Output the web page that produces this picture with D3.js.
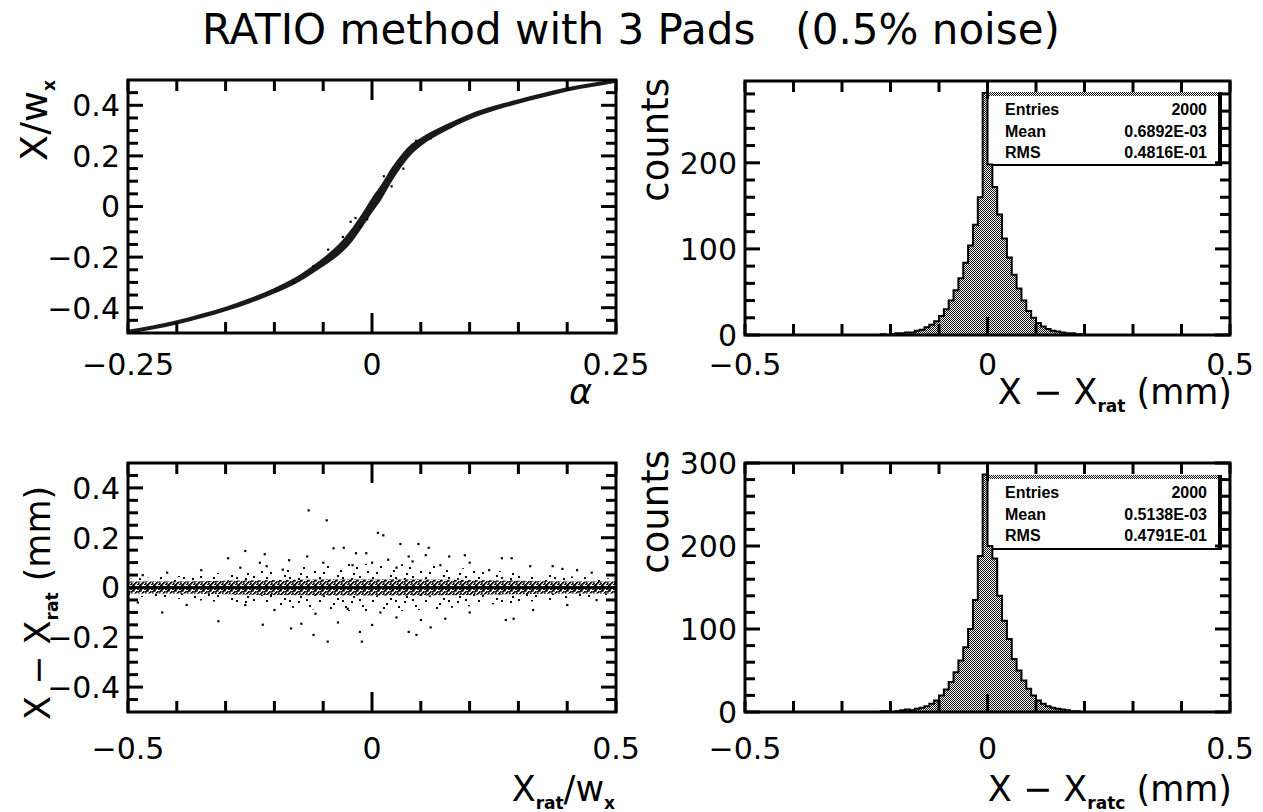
<!DOCTYPE html>
<html lang="en">
<head>
<meta charset="UTF-8">
<title>RATIO method with 3 Pads (0.5% noise)</title>
<style>
  body { margin: 0; background: #fff; overflow: hidden; }
  svg { display: block; }
  text { font-family: "DejaVu Sans", sans-serif; fill: #000; }
  .tick-label { font-size: 30px; }
  .axis-title { font-size: 35px; }
  .sub { font-size: 17px; font-weight: bold; }
  .stats { font-family: "Liberation Sans", Arial, sans-serif; font-weight: bold; font-size: 16px; }
  .tick { stroke: #000; stroke-width: 3px; }
</style>
</head>
<body>
<svg id="chart" width="1263" height="812"></svg>
<script src="https://d3js.org/d3.v7.min.js"></script>
<script>
// ---- top left: X/w_x versus alpha (band) ----
const alphaGrid   = [-0.25, -0.225, -0.2, -0.175, -0.15, -0.125, -0.1, -0.075, -0.05, -0.04, -0.03, -0.02, -0.01, 0,
                     0.01, 0.02, 0.03, 0.04, 0.05, 0.075, 0.1, 0.125, 0.15, 0.175, 0.2, 0.225, 0.25];
const ratioCenter = [-0.495, -0.478, -0.458, -0.433, -0.405, -0.372, -0.333, -0.285, -0.22, -0.19, -0.155, -0.11, -0.055, 0.005,
                     0.06, 0.125, 0.18, 0.225, 0.255, 0.31, 0.355, 0.388, 0.415, 0.44, 0.463, 0.48, 0.497];
const ratioSpread = [0.008, 0.008, 0.008, 0.009, 0.009, 0.01, 0.011, 0.013, 0.017, 0.02, 0.024, 0.027, 0.028, 0.03,
                     0.03, 0.028, 0.025, 0.021, 0.017, 0.013, 0.011, 0.01, 0.009, 0.009, 0.008, 0.008, 0.008];
const curveOutliers = [[-0.022, -0.06], [-0.017, -0.045], [-0.012, -0.08], [-0.005, -0.05], [0.028, 0.165],
                       [0.032, 0.15], [-0.045, -0.17], [0.012, 0.12], [0.045, 0.26], [-0.03, -0.12], [0.02, 0.08],
                       [-0.06, -0.235], [0.06, 0.27], [-0.08, -0.3], [0.09, 0.34]];
const curveXTicks = [-0.25, 0, 0.25], curveXLabels = ["−0.25", "0", "0.25"];
const curveYTicks = [-0.4, -0.2, 0, 0.2, 0.4], curveYLabels = ["−0.4", "−0.2", "0", "0.2", "0.4"];

// ---- bottom left: X - X_rat versus X_rat/w_x ----
const residGrid = [-0.5, -0.4, -0.3, -0.2, -0.1, 0, 0.1, 0.2, 0.3, 0.4, 0.5];
const residCore = [0.024, 0.024, 0.027, 0.03, 0.032, 0.032, 0.032, 0.03, 0.027, 0.024, 0.024];
const residHalo = [0.035, 0.045, 0.06, 0.075, 0.09, 0.095, 0.09, 0.075, 0.06, 0.045, 0.035];
const residPoints = [
  [-0.13, 0.31], [-0.093, 0.27], [0.012, 0.22], [0.023, 0.21], [-0.26, 0.147], [-0.22, 0.134], [-0.295, 0.118],
  [-0.079, 0.158], [-0.058, 0.16], [0.058, 0.175], [0.095, 0.175], [0.116, 0.16], [0.158, 0.125], [0.19, 0.13],
  [0.266, 0.118], [0.286, 0.118], [0.324, 0.086], [0.37, 0.086], [0.39, 0.075], [-0.23, 0.1], [-0.216, 0.086],
  [-0.183, 0.072], [-0.133, 0.125], [-0.033, 0.138], [-0.012, 0.138], [0.033, 0.112], [0.075, 0.125], [0.083, 0.105],
  [-0.35, 0.07], [-0.42, 0.06], [-0.47, 0.05], [0.45, 0.06], [0.42, 0.07], [-0.1, 0.1], [0.14, 0.09], [0.2, 0.1],
  [-0.04, 0.09], [0.0, 0.1], [0.05, 0.08], [0.24, 0.07], [-0.27, 0.08], [-0.17, 0.11], [0.11, 0.13],
  [-0.43, -0.1], [-0.315, -0.135], [-0.224, -0.149], [-0.166, -0.164], [-0.145, -0.145], [-0.091, -0.217],
  [-0.025, -0.178], [-0.021, -0.217], [0.075, -0.178], [0.091, -0.19], [0.1, -0.13], [0.15, -0.125], [0.274, -0.13],
  [0.29, -0.125], [0.017, -0.1], [-0.05, -0.085], [-0.116, -0.105], [-0.38, -0.07], [-0.48, -0.06], [0.4, -0.07],
  [0.46, -0.05], [0.2, -0.1], [0.33, -0.09], [-0.2, -0.09], [-0.26, -0.07], [0.05, -0.12], [-0.07, -0.14],
  [0.12, -0.16], [-0.12, -0.19], [0.0, -0.15]
];
const residXTicks = [-0.5, 0, 0.5], residXLabels = ["−0.5", "0", "0.5"];

// ---- histograms, bins of 0.01 starting at the first edge ----
const binWidth = 0.01;
const ratFirstEdge = -0.22;
const ratCounts = [1, 0, 1, 2, 2, 3, 3, 5, 6, 9, 12, 16, 22, 30, 40, 52, 66, 84, 104, 128, 160, 281,
                   198, 172, 140, 112, 90, 70, 54, 40, 28, 20, 14, 10, 7, 5, 4, 3, 2, 2, 1, 1];
const ratcFirstEdge = -0.22;
const ratcCounts = [1, 1, 0, 1, 2, 3, 2, 4, 5, 7, 10, 14, 20, 27, 36, 48, 62, 78, 100, 135, 188, 286,
                    200, 185, 140, 110, 88, 64, 50, 38, 28, 20, 14, 10, 7, 5, 4, 3, 2, 1, 1];
const histXTicks = [-0.5, 0, 0.5], histXLabels = ["−0.5", "0", "0.5"];
const ratYTicks = [0, 100, 200], ratYLabels = ["0", "100", "200"];
const ratcYTicks = [0, 100, 200, 300], ratcYLabels = ["0", "100", "200", "300"];

const statNames = ["Entries", "Mean", "RMS"];
const ratStats  = ["2000", "0.6892E-03", "0.4816E-01"];
const ratcStats = ["2000", "0.5138E-03", "0.4791E-01"];

// ---- setup ----
const svg = d3.select("#chart");
const defs = svg.append("defs");

// checker pattern used for histogram fill and the stats box border
const hatch = defs.append("pattern").attr("id", "hatch")
  .attr("width", 2).attr("height", 2).attr("patternUnits", "userSpaceOnUse");
hatch.append("rect").attr("width", 2).attr("height", 2).attr("fill", "#fff");
hatch.append("rect").attr("x", 0).attr("y", 0).attr("width", 1).attr("height", 1).attr("fill", "#111");
hatch.append("rect").attr("x", 1).attr("y", 1).attr("width", 1).attr("height", 1).attr("fill", "#111");

// loose dots for the halo of the residual scatter
const sparse = defs.append("pattern").attr("id", "sparse")
  .attr("width", 53).attr("height", 23).attr("patternUnits", "userSpaceOnUse");
[[1, 2], [9, 14], [15, 5], [22, 18], [27, 8], [5, 20], [19, 0], [12, 9], [33, 3], [38, 15], [44, 7],
 [49, 19], [30, 12], [41, 1], [47, 11], [35, 21], [24, 2]].forEach(([a, b]) =>
  sparse.append("rect").attr("x", a).attr("y", b).attr("width", 2).attr("height", 2).attr("fill", "#000"));

// tight dots for the core of the residual scatter
const dense = defs.append("pattern").attr("id", "dense")
  .attr("width", 7).attr("height", 5).attr("patternUnits", "userSpaceOnUse");
dense.append("rect").attr("width", 7).attr("height", 5).attr("fill", "#fff");
[[0, 0], [3, 1], [5, 3], [1, 3], [4, 4], [6, 0], [2, 2], [5, 1], [0, 4]].forEach(([a, b]) =>
  dense.append("rect").attr("x", a).attr("y", b).attr("width", 1.7).attr("height", 1.7).attr("fill", "#000"));

// title
svg.append("text").attr("x", 631).attr("y", 44).attr("text-anchor", "middle")
  .style("font-size", "42px").style("white-space", "pre")
  .text("RATIO method with 3 Pads   (0.5% noise)");

const near = (list, v) => list.some(m => Math.abs(m - v) < 1e-9);

function frame(x, y) {
  const [l, r] = x.range(), [b, t] = y.range();
  svg.append("rect").attr("x", l).attr("y", t).attr("width", r - l).attr("height", b - t)
    .attr("fill", "none").attr("stroke", "#000").attr("stroke-width", 3);
}

function ticks(x, y, xVals, xMajor, yVals, yMajor, o) {
  const [l, r] = x.range(), [b, t] = y.range();
  const g = svg.append("g");
  xVals.forEach(v => {
    const len = near(xMajor, v) ? o.xMaj : o.xMin;
    g.append("line").attr("class", "tick").attr("x1", x(v)).attr("x2", x(v)).attr("y1", b).attr("y2", b - len);
    g.append("line").attr("class", "tick").attr("x1", x(v)).attr("x2", x(v)).attr("y1", t).attr("y2", t + len);
  });
  yVals.forEach(v => {
    const len = near(yMajor, v) ? o.yMaj : o.yMin;
    g.append("line").attr("class", "tick").attr("x1", l).attr("x2", l + len).attr("y1", y(v)).attr("y2", y(v));
    g.append("line").attr("class", "tick").attr("x1", r).attr("x2", r - len).attr("y1", y(v)).attr("y2", y(v));
  });
}

function labels(x, y, xVals, xText, yVals, yText, xBase) {
  const [l] = x.range();
  xVals.forEach((v, i) => svg.append("text").attr("class", "tick-label")
    .attr("x", x(v)).attr("y", xBase).attr("text-anchor", "middle").text(xText[i]));
  yVals.forEach((v, i) => svg.append("text").attr("class", "tick-label")
    .attr("x", l - 8).attr("y", y(v)).attr("dy", "0.36em").attr("text-anchor", "end").text(yText[i]));
}

// text with subscript pieces: parts = [[text, isSub], ...]
function richText(sel, parts, subSize) {
  let down = false;
  parts.forEach(([s, sub]) => {
    const t = sel.append("tspan").text(s).style("white-space", "pre");
    if (sub) {
      t.attr("class", "sub").attr("dy", 8);
      if (subSize) t.style("font-size", subSize + "px");
      down = true;
    } else if (down) {
      t.attr("dy", -8);
      down = false;
    }
  });
  return sel;
}

// ================= top left =================
const xA = d3.scaleLinear([-0.25, 0.25], [128, 616]);
const yA = d3.scaleLinear([-0.5, 0.5], [333, 80]);
const bandA = alphaGrid.map((a, i) => ({ a, c: ratioCenter[i], s: ratioSpread[i] }));
svg.append("path").datum(bandA)
  .attr("d", d3.area().curve(d3.curveMonotoneX).x(d => xA(d.a)).y0(d => yA(d.c - d.s)).y1(d => yA(d.c + d.s)))
  .attr("fill", "#1a1a1a");
svg.append("g").selectAll("rect").data(curveOutliers).join("rect")
  .attr("x", d => xA(d[0]) - 1).attr("y", d => yA(d[1]) - 1).attr("width", 2.2).attr("height", 2.2).attr("fill", "#000");
frame(xA, yA);
ticks(xA, yA, d3.range(-0.25, 0.2501, 0.05), [0], d3.range(-0.45, 0.4501, 0.05), curveYTicks,
      { xMin: 11, xMaj: 20, yMin: 10, yMaj: 15 });
labels(xA, yA, curveXTicks, curveXLabels, curveYTicks, curveYLabels, 375);
svg.append("text").attr("class", "axis-title").attr("x", 592).attr("y", 404).attr("text-anchor", "end")
  .style("font-style", "italic").text("α");
richText(svg.append("text").attr("class", "axis-title").style("font-size", "38px").attr("text-anchor", "end")
  .attr("transform", "translate(47,80) rotate(-90)"), [["X/w", false], ["x", true]]);

// ================= bottom left =================
const xB = d3.scaleLinear([-0.5, 0.5], [128, 616]);
const yB = d3.scaleLinear([-0.5, 0.5], [712, 463]);
const bandB = residGrid.map((v, i) => ({ v, core: residCore[i], halo: residHalo[i] }));
svg.append("path").datum(bandB)
  .attr("d", d3.area().curve(d3.curveMonotoneX).x(d => xB(d.v)).y0(d => yB(-d.halo)).y1(d => yB(d.halo)))
  .attr("fill", "url(#sparse)");
svg.append("path").datum(bandB)
  .attr("d", d3.area().curve(d3.curveMonotoneX).x(d => xB(d.v)).y0(d => yB(-d.core)).y1(d => yB(d.core)))
  .attr("fill", "url(#dense)");
svg.append("path").datum(residGrid)
  .attr("d", d3.line().x(d => xB(d)).y(() => yB(0)))
  .attr("stroke", "#000").attr("stroke-width", 3);
svg.append("g").selectAll("rect").data(residPoints).join("rect")
  .attr("x", d => xB(d[0]) - 1).attr("y", d => yB(d[1]) - 1).attr("width", 2.2).attr("height", 2.2).attr("fill", "#000");
frame(xB, yB);
ticks(xB, yB, d3.range(-0.5, 0.5001, 0.1), [0], d3.range(-0.45, 0.4501, 0.05), curveYTicks,
      { xMin: 11, xMaj: 20, yMin: 10, yMaj: 15 });
labels(xB, yB, residXTicks, residXLabels, curveYTicks, curveYLabels, 759);
richText(svg.append("text").attr("class", "axis-title").attr("x", 615).attr("y", 801).attr("text-anchor", "end"),
  [["X", false], ["rat", true], ["/w", false], ["x", true]]);
richText(svg.append("text").attr("class", "axis-title").style("font-size", "35px").attr("text-anchor", "start")
  .attr("transform", "translate(50,720) rotate(-90)"), [["X − X", false], ["rat", true], [" (mm)", false]]);

// ================= histograms =================
function histogram(x, y, firstEdge, counts, stats, box, yVals, yText, xBase, titleParts, titleBase, countsEnd) {
  // stats box under the bars
  svg.append("rect").attr("x", box.l).attr("y", box.t).attr("width", box.r - box.l).attr("height", box.b - box.t)
    .attr("fill", "#fff");
  svg.append("rect").attr("x", box.l).attr("y", box.t).attr("width", box.r - box.l).attr("height", 4)
    .attr("fill", "url(#hatch)");
  svg.append("line").attr("x1", box.l + 1.5).attr("x2", box.l + 1.5).attr("y1", box.t).attr("y2", box.b)
    .attr("stroke", "#000").attr("stroke-width", 3);
  svg.append("line").attr("x1", box.r - 2).attr("x2", box.r - 2).attr("y1", box.t).attr("y2", box.b)
    .attr("stroke", "#000").attr("stroke-width", 4);
  svg.append("line").attr("x1", box.l).attr("x2", box.r).attr("y1", box.b).attr("y2", box.b)
    .attr("stroke", "#000").attr("stroke-width", 2);
  statNames.forEach((n, i) => {
    const yy = box.t + 23 + i * 21.5;
    svg.append("text").attr("class", "stats").attr("x", box.l + 22).attr("y", yy).text(n);
    svg.append("text").attr("class", "stats").attr("x", box.r - 15).attr("y", yy).attr("text-anchor", "end").text(stats[i]);
  });

  const pts = counts.map((c, i) => [firstEdge + i * binWidth, c]);
  pts.push([firstEdge + counts.length * binWidth, counts[counts.length - 1]]);
  svg.append("path").datum(pts)
    .attr("d", d3.area().curve(d3.curveStepAfter).x(d => x(d[0])).y0(y(0)).y1(d => y(d[1])))
    .attr("fill", "url(#hatch)");
  const outline = [[-0.5, 0], [firstEdge, 0], ...pts, [pts[pts.length - 1][0], 0], [0.5, 0]];
  svg.append("path").datum(outline)
    .attr("d", d3.line().curve(d3.curveStepAfter).x(d => x(d[0])).y(d => y(d[1])))
    .attr("fill", "none").attr("stroke", "#000").attr("stroke-width", 2);

  frame(x, y);
  const top = y.domain()[1];
  ticks(x, y, d3.range(-0.5, 0.5001, 0.1), [0], d3.range(0, top + 0.1, 20), yVals,
        { xMin: 11, xMaj: 18, yMin: 10, yMaj: 15 });
  labels(x, y, histXTicks, histXLabels, yVals, yText, xBase);
  richText(svg.append("text").attr("class", "axis-title").attr("x", x.range()[1] + 2).attr("y", titleBase)
    .attr("text-anchor", "end"), titleParts);
  svg.append("text").attr("class", "axis-title").style("font-size", "37px").attr("text-anchor", "end")
    .attr("transform", `translate(668,${countsEnd}) rotate(-90)`).text("counts");
}

const xR = d3.scaleLinear([-0.5, 0.5], [745, 1230]);
const yR = d3.scaleLinear([0, 295], [335, 81]);
histogram(xR, yR, ratFirstEdge, ratCounts, ratStats, { l: 983, r: 1222, t: 92, b: 165 },
  ratYTicks, ratYLabels, 375, [["X − X", false], ["rat", true], [" (mm)", false]], 404, 78);

const xC = d3.scaleLinear([-0.5, 0.5], [745, 1230]);
const yC = d3.scaleLinear([0, 300], [712, 463]);
histogram(xC, yC, ratcFirstEdge, ratcCounts, ratcStats, { l: 983, r: 1222, t: 475, b: 549 },
  ratcYTicks, ratcYLabels, 759, [["X − X", false], ["ratc", true], [" (mm)", false]], 801, 450);
</script>
</body>
</html>
